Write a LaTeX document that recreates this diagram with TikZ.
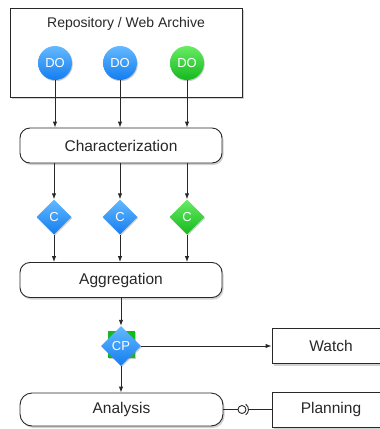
\documentclass[tikz,border=0pt]{standalone}
\usepackage{fontspec}
\setmainfont{Liberation Sans}
\usetikzlibrary{shapes.geometric,shadows,arrows.meta}
\definecolor{doblue}{RGB}{20,125,240}
\definecolor{dobluelight}{RGB}{100,185,255}
\definecolor{dogreen}{RGB}{20,185,30}
\definecolor{dogreenlight}{RGB}{105,235,100}
\definecolor{linegray}{RGB}{40,40,40}
\definecolor{textgray}{RGB}{40,40,40}
\begin{document}
\begin{tikzpicture}[x=1pt,y=-1pt]
	\tikzstyle{every node}=[font=\fontsize{15.5}{18}\selectfont, text=textgray]
	\tikzstyle{box}=[draw=linegray, fill=white, line width=0.9pt, drop shadow={shadow xshift=1.5pt,shadow yshift=-2pt,opacity=0.35}]
	\tikzstyle{stage}=[box, rounded corners=10pt, minimum width=202pt, minimum height=35pt]
	\tikzstyle{plan}=[box, minimum width=118pt, minimum height=35pt]
	\tikzstyle{obj}=[circle, minimum size=34pt, inner sep=0pt, text=white, font=\fontsize{13}{15}\selectfont, drop shadow={shadow xshift=0.8pt,shadow yshift=-1.2pt,opacity=0.4}]
	\tikzstyle{blueobj}=[obj, top color=dobluelight, bottom color=doblue]
	\tikzstyle{greenobj}=[obj, top color=dogreenlight, bottom color=dogreen]
	\tikzstyle{feat}=[diamond, aspect=1, minimum size=35pt, inner sep=0pt, text=white, font=\fontsize{13}{15}\selectfont, drop shadow={shadow xshift=0.8pt,shadow yshift=-1.2pt,opacity=0.4}]
	\tikzstyle{bluefeat}=[feat, top color=dobluelight, bottom color=doblue]
	\tikzstyle{greenfeat}=[feat, top color=dogreenlight, bottom color=dogreen]
	\tikzstyle{flow}=[draw=linegray, line width=0.9pt, -{Latex[length=6pt,width=4.5pt]}]
	\tikzstyle{link}=[draw=linegray, line width=0.9pt]

	\clip (0,0) rectangle (380,429);
	\fill[white] (0,0) rectangle (380,429);

	\node[box, minimum width=232pt, minimum height=89pt] (repo) at (126,52.5) {};
	\node[font=\fontsize{14}{17}\selectfont] (repotitle) at (126,24) {Repository / Web Archive};
	\node[blueobj] (do1) at (55,63) {DO};
	\node[blueobj] (do2) at (120,63) {DO};
	\node[greenobj] (do3) at (187,63) {DO};

	\node[stage] (char) at (121,145.5) {Characterization};

	\node[bluefeat] (c1) at (54,217) {C};
	\node[bluefeat] (c2) at (120,217) {C};
	\node[greenfeat] (c3) at (187,217) {C};

	\node[stage] (agg) at (121,280) {Aggregation};

	\node[rectangle, minimum size=27pt, inner sep=0pt, fill=dogreen, drop shadow={shadow xshift=0.8pt,shadow yshift=-1.2pt,opacity=0.4}] (cpback) at (121.5,344.5) {};
	\node[bluefeat, minimum size=40pt] (cp) at (121,346) {CP};

	\node[plan] (watch) at (331,346) {Watch};
	\node[stage, minimum width=203pt, minimum height=33pt, rounded corners=12pt] (analysis) at (121.5,409.5) {Analysis};
	\node[plan] (planning) at (331,409.5) {Planning};

	\draw[flow] (do1) -- (do1 |- char.north);
	\draw[flow] (do2) -- (do2 |- char.north);
	\draw[flow] (do3) -- (do3 |- char.north);
	\draw[flow] (c1 |- char.south) -- (c1.north);
	\draw[flow] (c2 |- char.south) -- (c2.north);
	\draw[flow] (c3 |- char.south) -- (c3.north);
	\draw[flow] (c1) -- (c1 |- agg.north);
	\draw[flow] (c2) -- (c2 |- agg.north);
	\draw[flow] (c3) -- (c3 |- agg.north);
	\draw[flow] (cp |- agg.south) -- (cp.north);
	\draw[flow] (cp) -- (watch);
	\draw[flow] (cp) -- (cp |- analysis.north);

	\node[circle, draw=linegray, line width=0.9pt, fill=white, minimum size=8pt, inner sep=0pt] (ball) at (242,409.5) {};
	\coordinate (socket) at (248.5,409.5);
	\draw[link] ([shift={(55:6.5pt)}]ball.center) arc[start angle=55, end angle=-55, radius=6.5pt];
	\draw[link] (analysis.east) -- (ball);
	\draw[link] (socket) -- (planning);
\end{tikzpicture}
\end{document}
